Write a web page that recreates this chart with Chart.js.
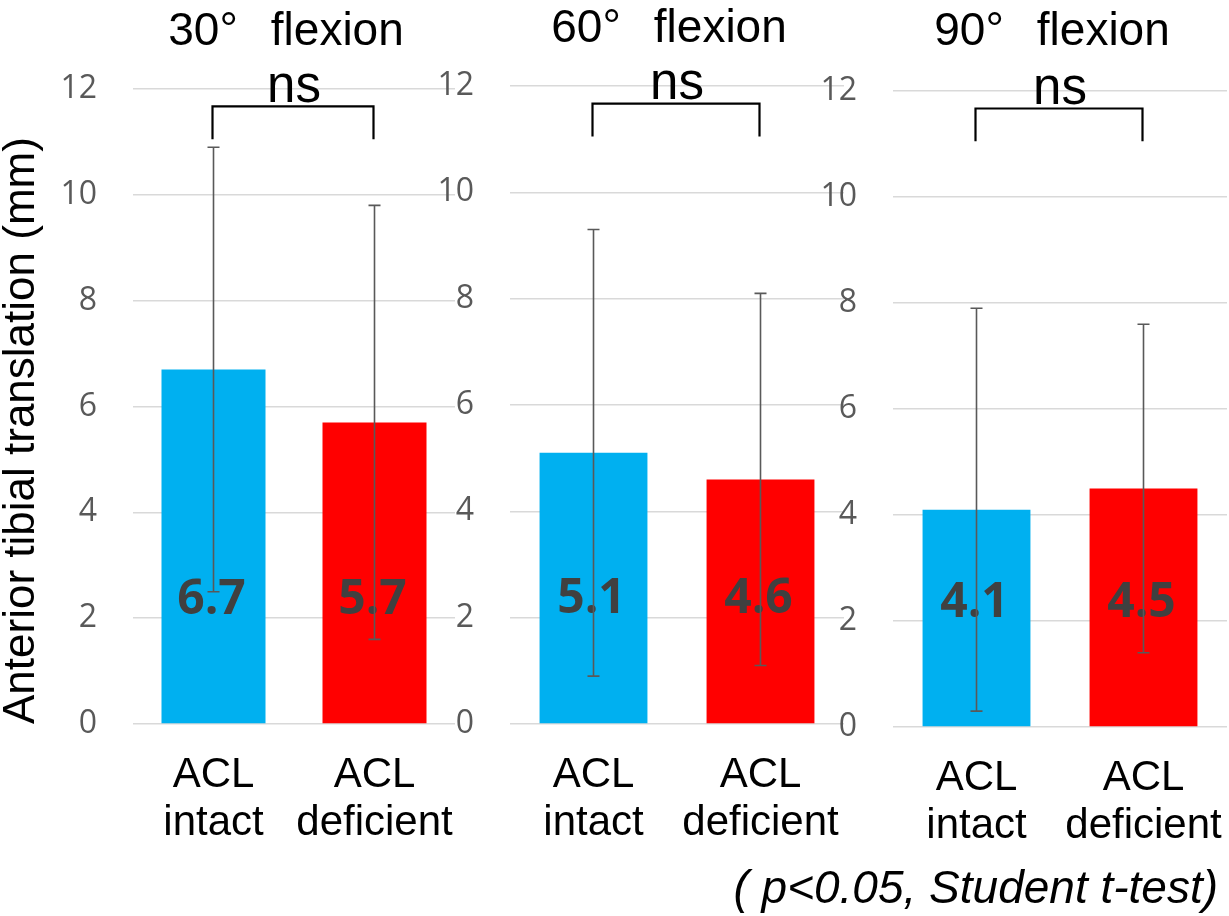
<!DOCTYPE html>
<html>
<head>
<meta charset="utf-8">
<script src="https://cdn.jsdelivr.net/npm/chart.js@4.4.1/dist/chart.umd.min.js"></script>
<style>
  html, body { margin: 0; padding: 0; background: #fff; }
  #wrap { position: relative; width: 1229px; height: 916px; overflow: hidden; }
  #wrap canvas { position: absolute; left: 0; top: 0; }
</style>
</head>
<body>
<div id="wrap">
  <canvas id="c0" width="1229" height="916"></canvas>
  <canvas id="c1" width="1229" height="916"></canvas>
  <canvas id="c2" width="1229" height="916"></canvas>
</div>
<script>
// data
const angles = ['30°', '60°', '90°'];
const groups = [['ACL', 'intact'], ['ACL', 'deficient']];
const intactMean = [6.7, 5.1, 4.1];
const deficientMean = [5.7, 4.6, 4.5];
const intactSD = [4.2, 4.2, 3.8];
const deficientSD = [4.1, 3.5, 3.1];
const significance = ['ns', 'ns', 'ns'];
const yTicks = [0, 2, 4, 6, 8, 10, 12];
const note = '( p<0.05, Student t-test)';

const barColors = ['#00b0f0', '#ff0000'];
const sans = '"Liberation Sans", Arial, sans-serif';

// where each panel's plot area sits on the page
const panels = [
  { left: 133, right: 455, top: 89, bottom: 724, titleY: 45, yWidth: 133 },
  { left: 510, right: 844, top: 86, bottom: 724, titleY: 42, yWidth: 110 },
  { left: 893, right: 1227, top: 91, bottom: 727, titleY: 45, yWidth: 110 }
];

function decorPlugin(i) {
  return {
    id: 'decor' + i,
    afterDatasetsDraw(chart) {
      const { ctx, chartArea } = chart;
      const xs = chart.scales.x, ys = chart.scales.y;
      const means = [intactMean[i], deficientMean[i]];
      const sds = [intactSD[i], deficientSD[i]];
      const cx = (chartArea.left + chartArea.right) / 2;
      ctx.save();

      // numbers inside the bars
      ctx.font = 'bold 48px "Open Sans"';
      ctx.fillStyle = '#404040';
      ctx.textAlign = 'center';
      ctx.textBaseline = 'alphabetic';
      means.forEach((m, j) => {
        ctx.fillText(m.toFixed(1), xs.getPixelForValue(j) - 2, ys.getPixelForValue(2.4) + 17);
      });

      // error bars
      ctx.strokeStyle = '#595959';
      ctx.lineWidth = 1.6;
      means.forEach((m, j) => {
        const px = xs.getPixelForValue(j);
        const hi = ys.getPixelForValue(m + sds[j]);
        const lo = ys.getPixelForValue(m - sds[j]);
        ctx.beginPath();
        ctx.moveTo(px, hi); ctx.lineTo(px, lo);
        ctx.moveTo(px - 6, hi); ctx.lineTo(px + 6, hi);
        ctx.moveTo(px - 6, lo); ctx.lineTo(px + 6, lo);
        ctx.stroke();
      });

      // significance bracket
      const bx0 = xs.getPixelForValue(0) - 1, bx1 = xs.getPixelForValue(1) - 1;
      const by = ys.getPixelForValue(11.67), byLeg = ys.getPixelForValue(11.05);
      ctx.strokeStyle = '#000';
      ctx.lineWidth = 2.2;
      ctx.beginPath();
      ctx.moveTo(bx0, byLeg); ctx.lineTo(bx0, by); ctx.lineTo(bx1, by); ctx.lineTo(bx1, byLeg);
      ctx.stroke();

      ctx.fillStyle = '#000';
      ctx.font = '51px ' + sans;
      ctx.fillText(significance[i], cx, ys.getPixelForValue(11.75));

      // panel title, wide gap after the degree sign
      ctx.font = '46px ' + sans;
      const a = angles[i], b = 'flexion', gap = 33;
      const wa = ctx.measureText(a).width, wb = ctx.measureText(b).width;
      const start = cx - 8 - (wa + gap + wb) / 2;
      ctx.textAlign = 'left';
      ctx.fillText(a, start, panels[i].titleY);
      ctx.fillText(b, start + wa + gap, panels[i].titleY);

      // footnote under the last panel
      if (i === 2) {
        ctx.font = 'italic 46px ' + sans;
        ctx.textAlign = 'right';
        ctx.fillText(note, 1218, 903);
      }
      ctx.restore();
    }
  };
}

panels.forEach((p, i) => {
  const ctx = document.getElementById('c' + i).getContext('2d');
  new Chart(ctx, {
    type: 'bar',
    data: {
      labels: groups,
      datasets: [{
        data: [intactMean[i], deficientMean[i]],
        backgroundColor: barColors,
        borderWidth: 0,
        barPercentage: 0.646,
        categoryPercentage: 1
      }]
    },
    options: {
      responsive: false,
      animation: false,
      layout: {
        padding: {
          left: p.left - p.yWidth,
          right: 1229 - p.right,
          top: p.top,
          bottom: 916 - p.bottom - 130
        }
      },
      plugins: {
        legend: { display: false },
        tooltip: { enabled: false }
      },
      scales: {
        x: {
          ticks: {
            color: '#000',
            font: { family: sans, size: 42, lineHeight: 1.15 },
            padding: 27,
            maxRotation: 0,
            minRotation: 0,
            autoSkip: false
          },
          grid: { display: false, drawTicks: false },
          border: { display: false },
          afterFit(scale) {
            scale.height = 130;
            scale.paddingLeft = 0;
            scale.paddingRight = 0;
          }
        },
        y: {
          min: 0,
          max: 12,
          afterBuildTicks(scale) { scale.ticks = yTicks.map(v => ({ value: v })); },
          ticks: {
            color: '#595959',
            font: { family: '"Open Sans"', size: 32 },
            padding: 36
          },
          grid: { color: '#d9d9d9', lineWidth: 1.5, drawTicks: false },
          border: { display: false },
          title: {
            display: i === 0,
            text: 'Anterior tibial translation (mm)',
            color: '#000',
            align: 'start',
            font: { family: sans, size: 44, lineHeight: 1 },
            padding: 0
          },
          afterFit(scale) {
            scale.width = p.yWidth;
            scale.paddingTop = 0;
            scale.paddingBottom = 0;
          }
        }
      }
    },
    plugins: [decorPlugin(i)]
  });
});
</script>
</body>
</html>
